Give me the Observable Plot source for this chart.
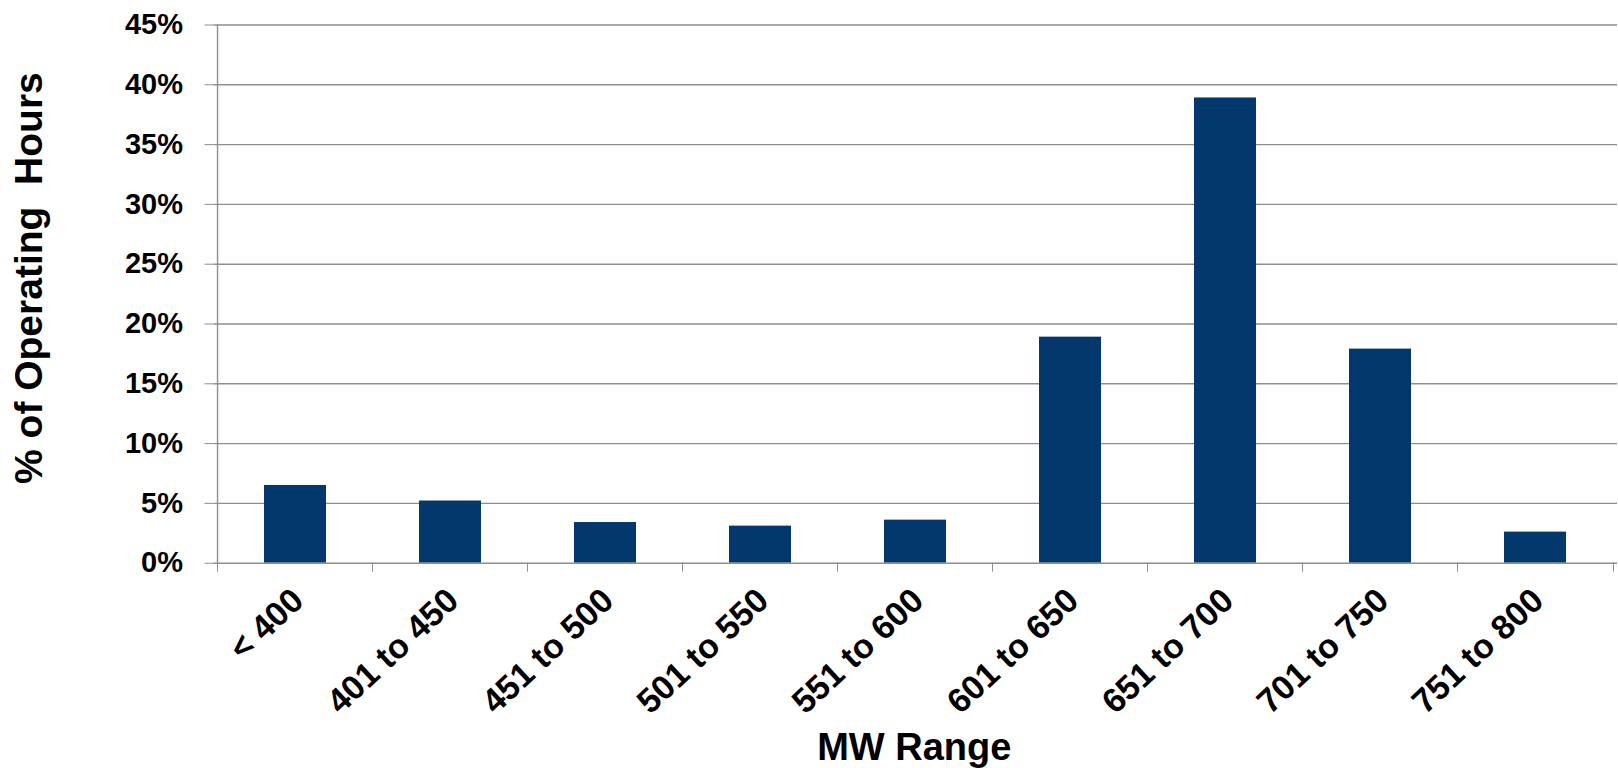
<!DOCTYPE html>
<html><head><meta charset="utf-8">
<script src="https://cdn.jsdelivr.net/npm/d3@7"></script>
<script src="https://cdn.jsdelivr.net/npm/@observablehq/plot@0.6"></script>
<style>
html,body{margin:0;padding:0;background:#fff;}
#chart svg{display:block;}
#chart svg text{white-space:pre;}
</style></head><body><div id="chart"></div>
<script>
const categories = ["< 400","401 to 450","451 to 500","501 to 550","551 to 600","601 to 650","651 to 700","701 to 750","751 to 800"];
const values = [6.5, 5.2, 3.4, 3.1, 3.6, 18.9, 38.9, 17.9, 2.6];
const yTicks = [0, 5, 10, 15, 20, 25, 30, 35, 40, 45];
const xTitle = "MW Range";
const yTitle = "% of Operating  Hours";

const data = categories.map((c, i) => ({range: c, pct: values[i]}));
const W = 1618, H = 768, mL = 213.5, mR = 1, mT = 24.5, mB = H - 562.7;
const step = (W - mL - mR) / categories.length;
const grid = "#8e8e8e";
const font = "'Liberation Sans', Arial, sans-serif";

const chart = Plot.plot({
  width: W, height: H, marginLeft: mL, marginRight: mR, marginTop: mT, marginBottom: mB,
  style: {fontFamily: font, background: "#fff", overflow: "visible", color: "#000"},
  x: {domain: categories, type: "band", paddingInner: 0.6, paddingOuter: 0.3, axis: null},
  y: {domain: [0, 45], axis: null},
  marks: [
    Plot.ruleY(yTicks.filter(t => t > 0), {stroke: grid, strokeWidth: 1.4}),
    Plot.barY(data, {x: "range", y: "pct", fill: "#03386c"}),
    Plot.ruleY([0], {stroke: grid, strokeWidth: 1.4}),
    Plot.ruleX([categories[0]], {x: d => d, dx: -step / 2, stroke: grid, strokeWidth: 1.4}),
    Plot.axisY(yTicks, {tickSize: 9, tickPadding: 22, tickFormat: d => d + "%", fontSize: 29, fontWeight: "bold", stroke: grid, fill: "#000", label: null}),
    Plot.axisX(categories, {tickSize: 9, dx: -step / 2, tickFormat: () => "", stroke: grid, label: null}),
    Plot.axisX([categories[categories.length - 1]], {tickSize: 9, dx: step / 2, tickFormat: () => "", stroke: grid, label: null}),
    Plot.text(categories, {x: d => d, text: d => d, frameAnchor: "bottom", rotate: -43, textAnchor: "end", lineAnchor: "bottom", dx: 10, dy: 40, fontSize: 34, fontWeight: "bold", fill: "#000"}),
    Plot.text([xTitle], {text: d => d, frameAnchor: "bottom", textAnchor: "middle", dx: -1.5, dy: 197, fontSize: 38, fontWeight: "bold", lineAnchor: "bottom", fill: "#000"}),
    Plot.text([yTitle], {text: d => d, frameAnchor: "left", textAnchor: "middle", rotate: -90, dx: 41 - mL, dy: -16, fontSize: 39, fontWeight: "bold", lineAnchor: "bottom", fill: "#000"})
  ]
});
document.getElementById("chart").appendChild(chart);
</script></body></html>
